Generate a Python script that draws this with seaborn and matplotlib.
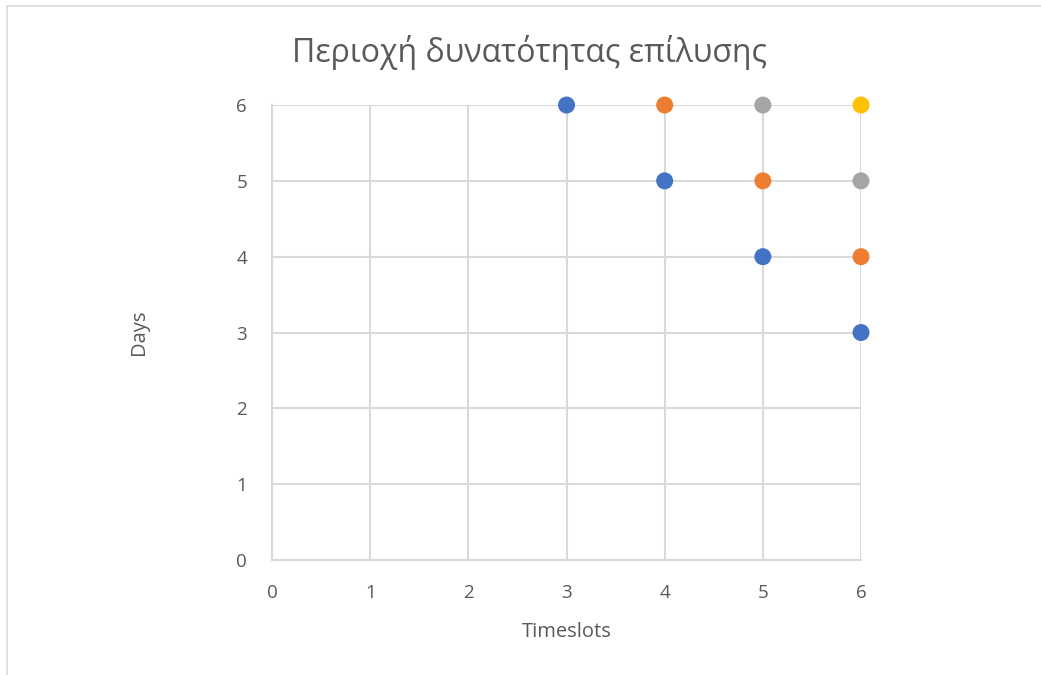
import matplotlib
matplotlib.use("Agg")
import matplotlib.pyplot as plt
import pandas as pd
import seaborn as sns
from matplotlib.lines import Line2D

# data: one list per series
series_names = ["Series1", "Series2", "Series3", "Series4"]
s1_x = [3, 4, 5, 6]
s1_y = [6, 5, 4, 3]
s2_x = [4, 5, 6]
s2_y = [6, 5, 4]
s3_x = [5, 6]
s3_y = [6, 5]
s4_x = [6]
s4_y = [6]
ticks = [0, 1, 2, 3, 4, 5, 6]

colors = ["#4472C4", "#ED7D31", "#A5A5A5", "#FFC000"]

rows = []
for name, xs, ys in zip(series_names, [s1_x, s2_x, s3_x, s4_x], [s1_y, s2_y, s3_y, s4_y]):
    for x, y in zip(xs, ys):
        rows.append({"series": name, "Timeslots": x, "Days": y})
df = pd.DataFrame(rows)

sns.set_theme(style="white")
plt.rcParams["font.family"] = ["Open Sans", "DejaVu Sans"]
text_color = "#595959"
grid_color = "#D9D9D9"

fig = plt.figure(figsize=(10.41, 6.75), dpi=100)
ax = fig.add_axes([0.2613, 0.1704, 0.5658, 0.674])

sns.scatterplot(data=df, x="Timeslots", y="Days", hue="series", palette=colors,
                s=150, linewidth=0, legend=False, ax=ax, zorder=3, clip_on=False)

ax.set_xlim(0, 6)
ax.set_ylim(0, 6)
ax.set_xticks(ticks)
ax.set_yticks(ticks)
ax.grid(True, color=grid_color, linewidth=1.5)
ax.set_axisbelow(True)
for side in ["top", "right"]:
    ax.spines[side].set_visible(False)
for side in ["left", "bottom"]:
    ax.spines[side].set_color(grid_color)
    ax.spines[side].set_linewidth(1.5)
ax.tick_params(axis="x", length=0, labelsize=13.5, colors=text_color, pad=17)
ax.tick_params(axis="y", length=0, labelsize=13.5, colors=text_color, pad=18)
ax.set_xlabel("Timeslots", fontsize=14.5, color=text_color, labelpad=15)
ax.set_ylabel("Days", fontsize=14.5, color=text_color, labelpad=63)
fig.text(530 / 1041, 1 - 52 / 675, "Περιοχή δυνατότητας επίλυσης", fontsize=23,
         color=text_color, ha="center", va="center")

# chart area frame
fig.add_artist(Line2D([7 / 1041, 7 / 1041], [0, 1 - 6 / 675], color=grid_color, linewidth=1.2))
fig.add_artist(Line2D([7 / 1041, 1], [1 - 6 / 675, 1 - 6 / 675], color=grid_color, linewidth=1.2))

fig.savefig("out.png", dpi=100)
